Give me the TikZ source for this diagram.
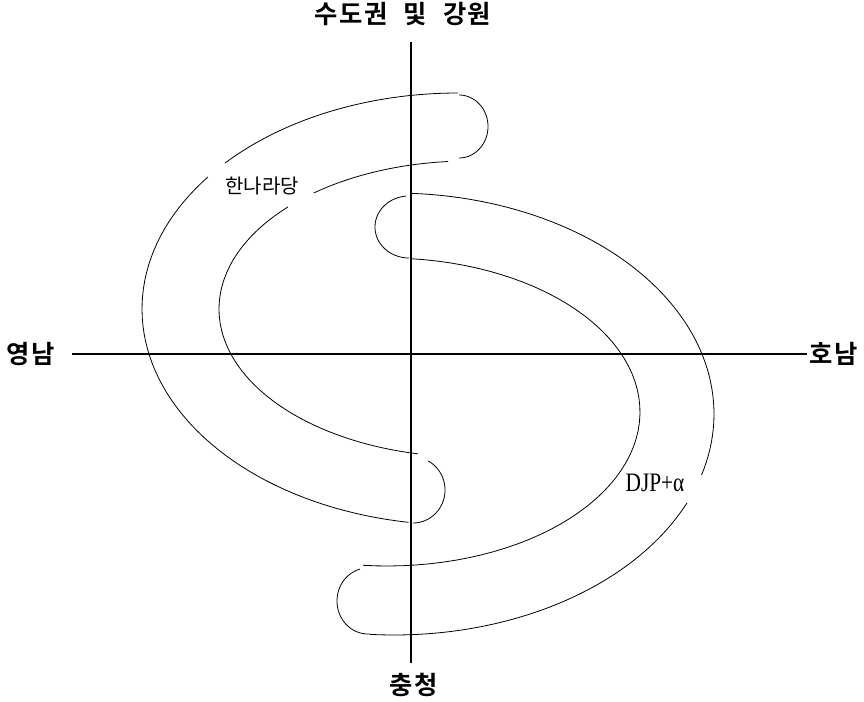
\documentclass[tikz,border=0pt]{standalone}
\usepackage{fontspec}
\usepackage{graphicx}
\setmainfont{Liberation Serif}
\newfontfamily\regionfont[LetterSpace=6]{Noto Sans CJK KR Bold}
\newfontfamily\partyfont{Noto Sans CJK KR}
\usetikzlibrary{positioning}

\begin{document}
\begin{tikzpicture}[
  x=0.75pt, y=-0.75pt,
  axis/.style={line width=1.5pt},
  band/.style={line width=0.6pt,samples=60,variable=\t},
  region/.style={inner sep=0pt,font=\regionfont\fontsize{19}{19}\selectfont},
  party/.style={inner sep=0pt,font=\partyfont\fontsize{15}{15}\selectfont},
  alliance/.style={inner sep=0pt,font=\fontsize{20}{20}\selectfont}
]
  \useasboundingbox (0,0) rectangle (864,702);
  % axes
  \coordinate (ntip) at (411,42);
  \coordinate (stip) at (411,663);
  \coordinate (wtip) at (72,354);
  \coordinate (etip) at (807,354);
  \draw[axis] (ntip) -- (stip);
  \draw[axis] (wtip) -- (etip);
  \node[region,above=12pt of ntip,xshift=-6pt] (capital) {수도권\hspace{12pt}및\hspace{12pt}강원};
  \node[region,below=7.5pt of stip,xshift=2pt] (chungcheong) {충청};
  \node[region,left=13pt of wtip] (yeongnam) {영남};
  \node[region,right=2pt of etip] (honam) {호남};
  % Hannara band
  \draw[band,domain=222.5:270] plot ({458+316*cos(\t)},{309+216*sin(\t)});
  \draw[band,domain=99:217.7] plot ({458+316*cos(\t)},{309+216*sin(\t)});
  \draw[band,domain=231.6:265.2] plot ({469+250*cos(\t)},{309+148*sin(\t)});
  \draw[band,domain=101.8:223.6] plot ({469+250*cos(\t)},{309+148*sin(\t)});
  \draw[band,domain=-90:90] plot ({459+29*cos(\t)},{126.5+31.5*sin(\t)});
  \draw[band,domain=-62:90] plot ({413+32*cos(\t)},{490+33*sin(\t)});
  % DJP band
  \draw[band,domain=-86.8:16] plot ({394+320*cos(\t)},{414+221*sin(\t)});
  \draw[band,domain=23.7:94.3] plot ({394+320*cos(\t)},{414+221*sin(\t)});
  \draw[band,domain=-84.6:95.4] plot ({387+253*cos(\t)},{412+154*sin(\t)});
  \draw[band,domain=90:265] plot ({409+34*cos(\t)},{227+31*sin(\t)});
  \draw[band,domain=86.5:255] plot ({368+31*cos(\t)},{601+33*sin(\t)});
  \node[party] (hannara) at (262,186) {한나라당};
  \node[alliance] (djp) at (655,483) {\scalebox{0.8}[1]{DJP+α}};
\end{tikzpicture}
\end{document}
